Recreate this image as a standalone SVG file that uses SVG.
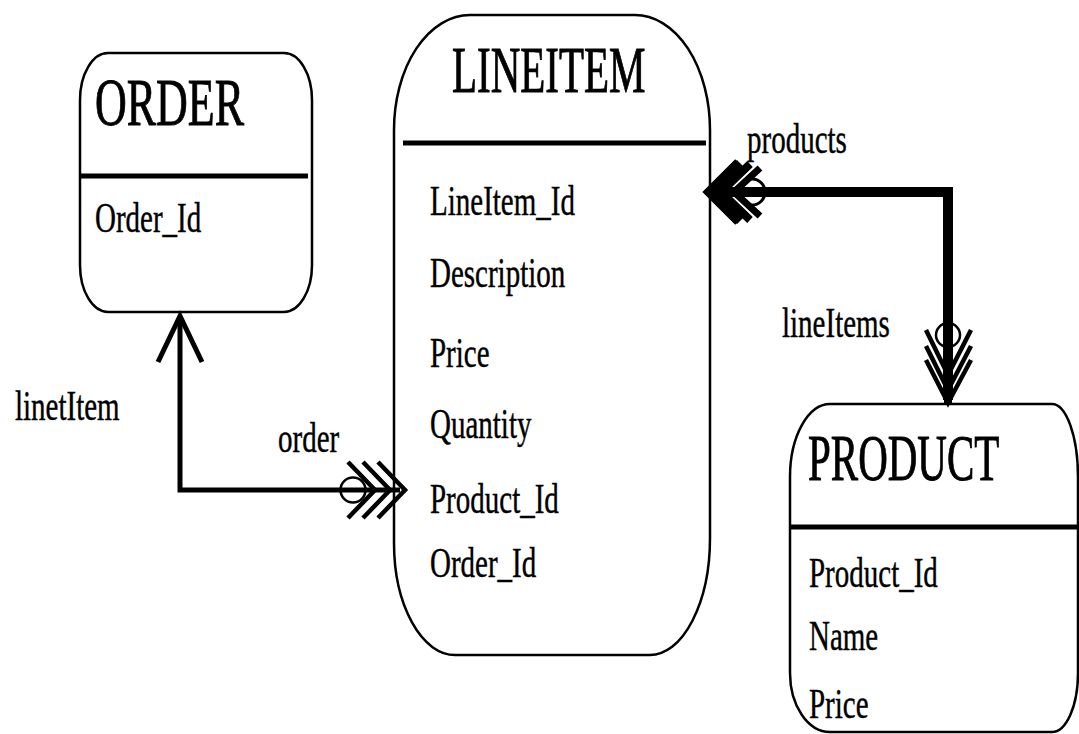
<svg xmlns="http://www.w3.org/2000/svg" width="1079" height="734" viewBox="0 0 1079 734">
<style>
.box{fill:#fff;stroke:#000;stroke-width:2.5}
.div{stroke:#000;stroke-width:5}
.t{font-family:"Liberation Serif","Times New Roman",serif;font-size:29px;fill:#000;stroke:#000;stroke-width:0.3}
.h{font-family:"Liberation Serif","Times New Roman",serif;font-size:41px;fill:#000;stroke:#000;stroke-width:0.6}
.ln{fill:none;stroke:#000;stroke-linejoin:miter;stroke-linecap:butt}
.ring{fill:none;stroke:#000;stroke-width:2.5}
</style>
<rect width="1079" height="734" fill="#fff"/>
<g id="order">
<rect class="box" x="80" y="53" width="232" height="259" rx="28" ry="47"/>
<line class="div" x1="80" y1="176" x2="308" y2="176"/>
<text class="h" style="font-size:44px" transform="matrix(1,0,0,1.55,95,125)">ORDER</text>
<text class="t" transform="matrix(1,0,0,1.45,95,232)">Order_Id</text>
</g>
<g id="lineitem">
<path class="box" d="M470 15 L635 15 A75 115 0 0 1 710 130 L710 538 A60 117 0 0 1 650 655 L455 655 A61 112 0 0 1 394 543 L394 130 A76 115 0 0 1 470 15 Z"/>
<line class="div" x1="403" y1="143" x2="706" y2="143"/>
<text class="h" transform="matrix(1,0,0,1.58,452,92)">LINEITEM</text>
<text class="t" transform="matrix(1,0,0,1.45,430,215)">LineItem_Id</text>
<text class="t" transform="matrix(1,0,0,1.45,430,287)">Description</text>
<text class="t" transform="matrix(1,0,0,1.45,430,367)">Price</text>
<text class="t" transform="matrix(1,0,0,1.45,430,438)">Quantity</text>
<text class="t" transform="matrix(1,0,0,1.45,430,513)">Product_Id</text>
<text class="t" transform="matrix(1,0,0,1.45,430,577)">Order_Id</text>
</g>
<g id="product">
<path class="box" d="M830 404 L1052 404 A26 73 0 0 1 1078 477 L1078 673 A26 59 0 0 1 1052 732 L830 732 A40 59 0 0 1 790 673 L790 477 A40 73 0 0 1 830 404 Z"/>
<line class="div" x1="790" y1="527" x2="1079" y2="527"/>
<text class="h" transform="matrix(1,0,0,1.58,808,480)">PRODUCT</text>
<text class="t" transform="matrix(1,0,0,1.45,809,587)">Product_Id</text>
<text class="t" transform="matrix(1,0,0,1.45,809,650)">Name</text>
<text class="t" transform="matrix(1,0,0,1.45,809,718)">Price</text>
</g>
<g id="connectors">
<polyline class="ln" stroke-width="5" points="180,318 180,490 400,490"/>
<polyline class="ln" stroke-width="5" points="158,362 180,316 202,362"/>
<circle class="ring" cx="353" cy="490" r="12.5"/>
<polyline class="ln" stroke-width="4.5" points="348,462 375,490 348,518"/>
<polyline class="ln" stroke-width="4.5" points="363,462 390,490 363,518"/>
<polyline class="ln" stroke-width="4.5" points="378,462 405,490 378,518"/>
<polyline class="ln" stroke-width="10" points="710,192 948,192 948,400"/>
<line class="ln" stroke-width="8" x1="948" y1="187" x2="948" y2="403"/>
<circle cx="752" cy="192" r="13" fill="#fff" stroke="#000" stroke-width="3"/>
<line class="ln" stroke-width="10" x1="735" y1="192" x2="770" y2="192"/>
<polyline class="ln" stroke-width="8" points="738,162 708,192 738,222"/>
<polyline class="ln" stroke-width="8" points="750,164 721,192 750,220"/>
<polyline class="ln" stroke-width="7" points="760,168 734,192 760,216"/>
<polygon points="703,192 737,160 744,167 716,192 744,217 737,224" fill="#000"/>
<circle class="ring" cx="948" cy="335" r="12"/>
<polyline class="ln" stroke-width="4.5" points="926,330 948,375 971,330"/>
<polyline class="ln" stroke-width="4.5" points="926,346 948,390 971,346"/>
<polyline class="ln" stroke-width="4.5" points="926,360 948,403 971,360"/>
<text class="t" transform="matrix(1,0,0,1.45,15,420)">linetItem</text>
<text class="t" transform="matrix(1,0,0,1.45,278,452)">order</text>
<text class="t" transform="matrix(1,0,0,1.45,747,153)">products</text>
<text class="t" transform="matrix(1,0,0,1.45,782,337)">lineItems</text>
</g>
</svg>
